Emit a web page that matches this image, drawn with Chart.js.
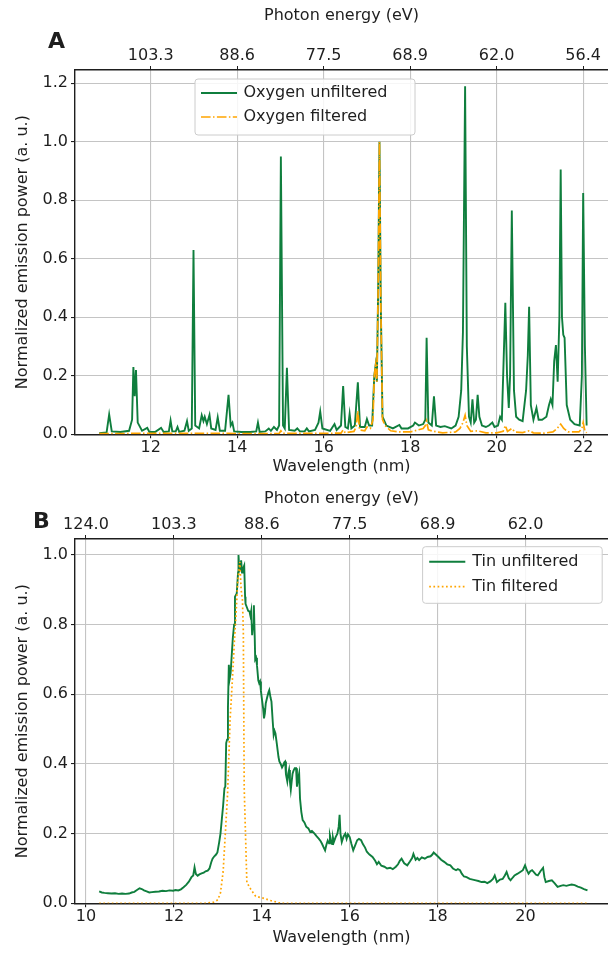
<!DOCTYPE html>
<html><head><meta charset="utf-8">
<script src="https://cdn.jsdelivr.net/npm/chart.js@4"></script>
<style>
html,body{margin:0;padding:0;background:#fff;overflow:hidden;width:608px;height:953px}
.wrap{position:absolute;left:0;width:608px}
#wa{top:0;height:480px}
#wb{top:480px;height:473px}
canvas{display:block}
</style></head><body>
<div class="wrap" id="wa"><canvas id="ca" width="608" height="480"></canvas></div>
<div class="wrap" id="wb"><canvas id="cb" width="608" height="473"></canvas></div>
<script>
// ---------- Panel A: oxygen ----------
const wlTicksA = [12, 14, 16, 18, 20, 22];
const energyLabelsA = ['103.3', '88.6', '77.5', '68.9', '62.0', '56.4'];
const yTicksA = [0, 0.2, 0.4, 0.6, 0.8, 1.0, 1.2];

const oxyUnfWl = [10.81,10.98,11.04,11.10,11.30,11.50,11.57,11.60,11.63,11.66,11.70,11.80,11.92,11.97,12.10,12.24,12.30,12.42,12.46,12.50,12.58,12.62,12.66,12.78,12.84,12.88,12.95,12.99,13.03,13.12,13.18,13.22,13.25,13.30,13.36,13.40,13.50,13.55,13.60,13.72,13.80,13.85,13.89,13.93,14.10,14.30,14.44,14.48,14.52,14.65,14.73,14.78,14.85,14.92,14.97,15.01,15.06,15.10,15.15,15.20,15.33,15.39,15.45,15.56,15.61,15.66,15.80,15.88,15.92,15.97,16.15,16.25,16.30,16.40,16.45,16.50,16.56,16.60,16.64,16.72,16.79,16.84,16.95,17.00,17.05,17.12,17.17,17.20,17.23,17.26,17.29,17.32,17.36,17.45,17.60,17.75,17.80,17.95,18.07,18.11,18.20,18.30,18.35,18.38,18.42,18.50,18.55,18.60,18.70,18.80,18.95,19.05,19.12,19.18,19.22,19.27,19.31,19.36,19.40,19.44,19.48,19.52,19.56,19.60,19.66,19.75,19.82,19.90,19.95,20.03,20.08,20.12,20.20,20.24,20.28,20.31,20.35,20.40,20.45,20.52,20.60,20.68,20.72,20.75,20.79,20.85,20.92,20.97,21.05,21.15,21.21,21.25,21.29,21.33,21.37,21.41,21.45,21.48,21.51,21.54,21.57,21.62,21.70,21.80,21.92,21.97,22.00,22.04,22.08];
const oxyUnfVal = [0.004,0.006,0.068,0.010,0.008,0.012,0.050,0.230,0.130,0.220,0.040,0.012,0.022,0.008,0.008,0.022,0.008,0.010,0.047,0.010,0.010,0.025,0.008,0.012,0.045,0.012,0.020,0.630,0.030,0.020,0.065,0.045,0.060,0.035,0.066,0.020,0.015,0.058,0.012,0.012,0.135,0.030,0.040,0.010,0.008,0.008,0.010,0.040,0.008,0.010,0.020,0.012,0.025,0.015,0.030,0.950,0.030,0.020,0.227,0.015,0.012,0.020,0.010,0.010,0.020,0.010,0.015,0.040,0.078,0.020,0.012,0.035,0.015,0.030,0.165,0.025,0.020,0.070,0.020,0.030,0.178,0.025,0.025,0.052,0.030,0.030,0.200,0.235,0.180,0.500,1.000,0.450,0.060,0.030,0.020,0.032,0.020,0.020,0.030,0.040,0.030,0.035,0.050,0.330,0.040,0.030,0.130,0.030,0.025,0.028,0.020,0.030,0.060,0.150,0.350,1.190,0.300,0.060,0.040,0.120,0.040,0.050,0.135,0.060,0.030,0.025,0.030,0.040,0.025,0.030,0.060,0.050,0.450,0.200,0.090,0.200,0.765,0.150,0.060,0.050,0.045,0.150,0.270,0.436,0.100,0.050,0.090,0.050,0.050,0.060,0.100,0.120,0.100,0.250,0.305,0.180,0.400,0.905,0.400,0.340,0.330,0.100,0.050,0.035,0.030,0.200,0.825,0.300,0.030];

const oxyFiltWl = [10.81,11.60,12.99,13.80,14.50,14.97,15.01,15.05,15.90,16.40,16.45,16.50,16.70,16.75,16.79,16.83,16.95,17.00,17.08,17.14,17.17,17.20,17.23,17.26,17.29,17.32,17.36,17.42,17.55,17.75,18.00,18.11,18.30,18.35,18.38,18.42,18.55,18.75,19.05,19.15,19.22,19.27,19.31,19.40,19.56,19.75,20.00,20.15,20.20,20.25,20.35,20.42,20.60,20.75,20.85,21.10,21.30,21.40,21.48,21.55,21.65,21.90,21.97,22.00,22.04,22.08];
const oxyFiltVal = [0.002,0.003,0.003,0.003,0.002,0.003,0.012,0.003,0.003,0.004,0.015,0.005,0.010,0.025,0.080,0.015,0.012,0.025,0.020,0.050,0.200,0.235,0.180,0.500,1.000,0.450,0.050,0.030,0.012,0.008,0.008,0.012,0.020,0.030,0.045,0.015,0.010,0.005,0.008,0.020,0.040,0.065,0.030,0.010,0.012,0.005,0.005,0.010,0.030,0.010,0.020,0.008,0.006,0.012,0.005,0.004,0.008,0.020,0.035,0.020,0.008,0.008,0.020,0.040,0.012,0.005];

// ---------- Panel B: tin ----------
const wlTicksB = [10, 12, 14, 16, 18, 20];
const energyLabelsB = ['124.0', '103.3', '88.6', '77.5', '68.9', '62.0'];
const yTicksB = [0, 0.2, 0.4, 0.6, 0.8, 1.0];

const tinUnfWl = [10.30,10.36,10.42,10.50,10.58,10.66,10.74,10.82,10.90,10.98,11.04,11.10,11.16,11.22,11.27,11.32,11.38,11.44,11.50,11.58,11.66,11.74,11.82,11.90,11.98,12.04,12.10,12.16,12.22,12.28,12.34,12.40,12.44,12.47,12.50,12.54,12.58,12.63,12.68,12.72,12.77,12.81,12.85,12.88,12.92,12.96,12.99,13.03,13.06,13.09,13.12,13.15,13.17,13.19,13.21,13.23,13.25,13.27,13.29,13.31,13.34,13.37,13.39,13.43,13.46,13.47,13.49,13.51,13.53,13.55,13.57,13.60,13.62,13.63,13.66,13.69,13.72,13.74,13.76,13.78,13.80,13.82,13.84,13.85,13.87,13.89,13.92,13.94,13.96,13.98,14.00,14.03,14.05,14.07,14.09,14.12,14.15,14.17,14.20,14.22,14.25,14.27,14.29,14.31,14.34,14.36,14.38,14.40,14.43,14.46,14.49,14.51,14.53,14.55,14.58,14.60,14.62,14.64,14.66,14.68,14.70,14.72,14.75,14.78,14.80,14.83,14.85,14.87,14.90,14.93,14.97,15.01,15.06,15.10,15.14,15.20,15.25,15.30,15.34,15.37,15.41,15.44,15.47,15.50,15.53,15.55,15.58,15.60,15.62,15.64,15.68,15.72,15.75,15.77,15.79,15.82,15.86,15.90,15.93,15.96,16.00,16.04,16.08,16.12,16.17,16.21,16.26,16.30,16.35,16.39,16.45,16.52,16.58,16.62,16.66,16.72,16.79,16.85,16.92,16.98,17.05,17.10,17.14,17.18,17.24,17.31,17.37,17.42,17.45,17.50,17.54,17.58,17.64,17.71,17.77,17.84,17.88,17.91,17.96,18.02,18.08,18.15,18.22,18.29,18.35,18.42,18.46,18.51,18.55,18.60,18.66,18.73,18.80,18.87,18.93,19.00,19.07,19.13,19.20,19.26,19.30,19.35,19.42,19.48,19.53,19.57,19.62,19.66,19.71,19.75,19.82,19.88,19.94,19.99,20.03,20.07,20.11,20.15,20.20,20.24,20.28,20.34,20.40,20.43,20.46,20.53,20.60,20.66,20.73,20.80,20.86,20.93,20.99,21.05,21.12,21.19,21.26,21.33,21.41];
const tinUnfVal = [0.034,0.031,0.030,0.029,0.028,0.029,0.027,0.028,0.027,0.028,0.031,0.033,0.038,0.043,0.041,0.037,0.034,0.031,0.032,0.033,0.034,0.036,0.035,0.037,0.036,0.038,0.037,0.040,0.046,0.053,0.062,0.075,0.080,0.103,0.084,0.079,0.083,0.086,0.088,0.092,0.094,0.100,0.118,0.128,0.135,0.140,0.146,0.175,0.200,0.240,0.280,0.330,0.335,0.460,0.470,0.560,0.685,0.645,0.660,0.700,0.760,0.800,0.880,0.890,0.950,1.000,0.955,0.960,0.985,0.950,0.960,0.970,0.880,0.860,0.850,0.840,0.838,0.826,0.840,0.770,0.800,0.856,0.760,0.700,0.705,0.684,0.640,0.632,0.637,0.610,0.589,0.560,0.531,0.545,0.574,0.590,0.605,0.612,0.590,0.579,0.520,0.484,0.495,0.488,0.460,0.440,0.420,0.407,0.400,0.390,0.397,0.404,0.407,0.370,0.350,0.372,0.383,0.350,0.326,0.350,0.372,0.380,0.388,0.388,0.335,0.360,0.373,0.300,0.262,0.239,0.232,0.220,0.215,0.205,0.208,0.200,0.192,0.185,0.178,0.171,0.160,0.152,0.168,0.180,0.172,0.195,0.178,0.170,0.188,0.176,0.190,0.200,0.220,0.254,0.200,0.176,0.192,0.200,0.185,0.198,0.190,0.170,0.152,0.165,0.181,0.185,0.181,0.170,0.160,0.148,0.140,0.133,0.122,0.112,0.119,0.108,0.105,0.100,0.102,0.098,0.105,0.112,0.122,0.128,0.115,0.109,0.120,0.130,0.142,0.125,0.130,0.124,0.132,0.128,0.133,0.135,0.140,0.146,0.140,0.133,0.125,0.119,0.112,0.109,0.100,0.095,0.098,0.095,0.085,0.077,0.075,0.070,0.068,0.066,0.064,0.061,0.062,0.058,0.063,0.070,0.080,0.061,0.068,0.070,0.080,0.090,0.072,0.066,0.074,0.080,0.085,0.090,0.095,0.109,0.095,0.085,0.092,0.095,0.088,0.082,0.080,0.092,0.102,0.075,0.061,0.064,0.066,0.058,0.047,0.050,0.052,0.050,0.052,0.054,0.052,0.048,0.045,0.041,0.037];

const tinFiltWl = [10.30,12.70,12.90,13.00,13.06,13.12,13.17,13.22,13.28,13.33,13.38,13.41,13.45,13.50,13.53,13.56,13.58,13.60,13.62,13.66,13.75,13.86,14.03,14.20,14.38,14.50,21.41];
const tinFiltVal = [0.000,0.000,0.003,0.010,0.030,0.090,0.200,0.310,0.530,0.640,0.760,0.820,0.920,0.980,0.900,0.870,0.780,0.330,0.240,0.060,0.040,0.020,0.015,0.008,0.002,0.000,0.000];

// ---------- styling ----------
const GREEN = '#0f7e3d';
const ORANGE = '#ffa500';
const TXT = '#1e1e1e';
const GRID = '#c4c4c4';
const FONT = "'DejaVu Sans', sans-serif";
Chart.defaults.font.family = FONT;
Chart.defaults.font.size = 16;
Chart.defaults.color = TXT;

const pts = (xs, ys) => xs.map((x, i) => ({x: x, y: ys[i]}));

const overlay = {
  id: 'overlay',
  afterDraw(chart, args, o) {
    const ctx = chart.ctx, ca = chart.chartArea;
    ctx.save();
    ctx.font = 'bold 22px ' + FONT;
    ctx.fillStyle = TXT;
    ctx.textAlign = 'left';
    ctx.textBaseline = 'alphabetic';
    ctx.fillText(o.letter, ca.left + o.letterDx, ca.top + o.letterDy);
    const L = o.legend;
    const x0 = L.right ? ca.right - L.dx - L.w : ca.left + L.dx;
    const y0 = ca.top + L.dy;
    const r = 3;
    ctx.beginPath();
    ctx.moveTo(x0 + r, y0);
    ctx.lineTo(x0 + L.w - r, y0);
    ctx.arcTo(x0 + L.w, y0, x0 + L.w, y0 + r, r);
    ctx.lineTo(x0 + L.w, y0 + L.h - r);
    ctx.arcTo(x0 + L.w, y0 + L.h, x0 + L.w - r, y0 + L.h, r);
    ctx.lineTo(x0 + r, y0 + L.h);
    ctx.arcTo(x0, y0 + L.h, x0, y0 + L.h - r, r);
    ctx.lineTo(x0, y0 + r);
    ctx.arcTo(x0, y0, x0 + r, y0, r);
    ctx.closePath();
    ctx.fillStyle = 'rgba(255,255,255,0.85)';
    ctx.fill();
    ctx.strokeStyle = '#cccccc';
    ctx.lineWidth = 1;
    ctx.stroke();
    ctx.font = '16px ' + FONT;
    ctx.textBaseline = 'middle';
    chart.data.datasets.forEach((ds, i) => {
      const y = y0 + L.row0 + i * L.gap;
      ctx.strokeStyle = ds.borderColor;
      ctx.lineWidth = ds.borderWidth;
      ctx.setLineDash(ds.borderDash || []);
      ctx.beginPath();
      ctx.moveTo(x0 + L.lx0, y);
      ctx.lineTo(x0 + L.lx1, y);
      ctx.stroke();
      ctx.setLineDash([]);
      ctx.fillStyle = TXT;
      ctx.fillText(ds.label, x0 + L.tx, y);
    });
    ctx.restore();
  }
};

function makeChart(id, c) {
  const setTicks = (arr) => (s) => { s.ticks = arr.map(v => ({value: v})); };
  return new Chart(document.getElementById(id), {
    type: 'scatter',
    data: { datasets: c.datasets },
    options: {
      responsive: false, animation: false, devicePixelRatio: 1, events: [],
      layout: { padding: 0 },
      plugins: { legend: { display: false }, tooltip: { enabled: false }, overlay: c.overlay },
      scales: {
        x: {
          type: 'linear', position: 'bottom', min: c.xMin, max: c.xMax,
          afterBuildTicks: setTicks(c.wlTicks),
          afterFit: (s) => { s.height = c.bottomH; },
          ticks: { callback: (v) => String(v), padding: 0, autoSkip: false, maxRotation: 0, color: TXT },
          grid: { color: GRID, lineWidth: 1.1, tickColor: TXT, tickLength: 4 },
          border: { color: TXT, width: 1.4 },
          title: { display: true, text: 'Wavelength (nm)', color: TXT, font: { size: 16 }, padding: { top: 0, bottom: c.xTitlePad } }
        },
        x2: {
          type: 'linear', position: 'top', min: c.xMin, max: c.xMax,
          afterBuildTicks: setTicks(c.wlTicks),
          afterFit: (s) => { s.height = c.topH; },
          ticks: { callback: (v, i) => c.energyLabels[i], padding: 1, autoSkip: false, maxRotation: 0, color: TXT },
          grid: { drawOnChartArea: false, tickColor: TXT, tickLength: 4 },
          border: { color: TXT, width: 1.4 },
          title: { display: true, text: 'Photon energy (eV)', color: TXT, font: { size: 16 }, padding: { top: c.x2TitlePad, bottom: 0 } }
        },
        y: {
          type: 'linear', position: 'left', min: 0, max: c.yMax,
          afterBuildTicks: setTicks(c.yTicks),
          afterFit: (s) => { s.width = 75; },
          ticks: { callback: (v) => Number(v).toFixed(1), padding: 3, color: TXT },
          grid: { color: GRID, lineWidth: 1.1, tickColor: TXT, tickLength: 4 },
          border: { color: TXT, width: 1.4 },
          title: { display: true, text: 'Normalized emission power (a. u.)', color: TXT, font: { size: 16 }, padding: { top: 13, bottom: 0 } }
        }
      }
    },
    plugins: [overlay]
  });
}

makeChart('ca', {
  xMin: 10.25, xMax: 22.574, yMax: 1.2455,
  wlTicks: wlTicksA, energyLabels: energyLabelsA, yTicks: yTicksA,
  topH: 70, bottomH: 45.7, xTitlePad: 3.5, x2TitlePad: 6,
  datasets: [
    { label: 'Oxygen unfiltered', data: pts(oxyUnfWl, oxyUnfVal), borderColor: GREEN, backgroundColor: GREEN, borderWidth: 1.9, pointRadius: 0, showLine: true, tension: 0, order: 1 },
    { label: 'Oxygen filtered', data: pts(oxyFiltWl, oxyFiltVal), borderColor: ORANGE, backgroundColor: ORANGE, borderWidth: 1.7, borderDash: [9.6, 2.4, 1.5, 2.4], pointRadius: 0, showLine: true, tension: 0, order: 0 }
  ],
  overlay: {
    letter: 'A', letterDx: -27, letterDy: -21.7,
    legend: { right: false, dx: 120, dy: 9, w: 220, h: 56, row0: 14, gap: 24, lx0: 6, lx1: 42, tx: 48.5 }
  }
});

makeChart('cb', {
  xMin: 9.75, xMax: 21.877, yMax: 1.046,
  wlTicks: wlTicksB, energyLabels: energyLabelsB, yTicks: yTicksB,
  topH: 59, bottomH: 49.7, xTitlePad: 5.4, x2TitlePad: 9.4,
  datasets: [
    { label: 'Tin unfiltered', data: pts(tinUnfWl, tinUnfVal), borderColor: GREEN, backgroundColor: GREEN, borderWidth: 1.9, pointRadius: 0, showLine: true, tension: 0, order: 1 },
    { label: 'Tin filtered', data: pts(tinFiltWl, tinFiltVal), borderColor: ORANGE, backgroundColor: ORANGE, borderWidth: 1.7, borderDash: [1.7, 2.5], pointRadius: 0, showLine: true, tension: 0, order: 0 }
  ],
  overlay: {
    letter: 'B', letterDx: -42, letterDy: -10.7,
    legend: { right: true, dx: 5.8, dy: 7.7, w: 179.6, h: 56.6, row0: 15, gap: 25, lx0: 6.6, lx1: 42.7, tx: 49.7 }
  }
});
</script>
</body></html>
